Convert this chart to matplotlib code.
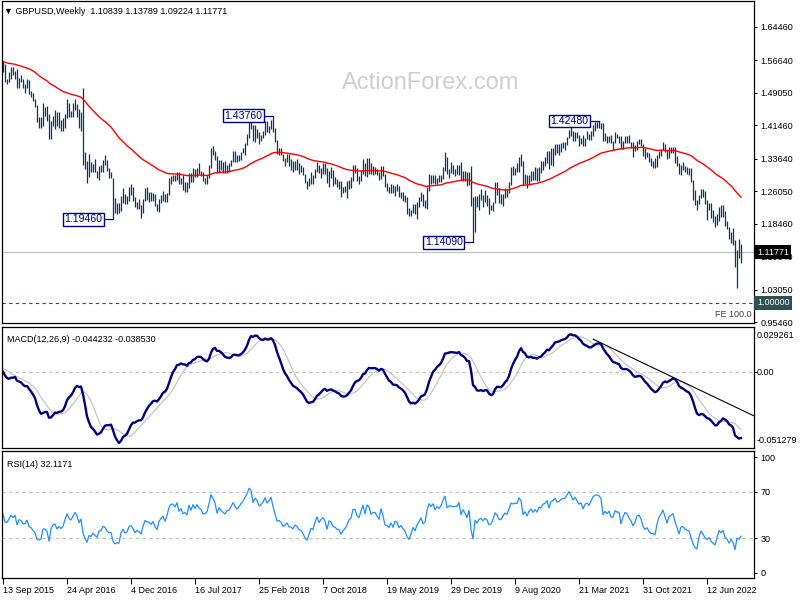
import numpy as np
import pandas as pd
import matplotlib
matplotlib.use("Agg")
import matplotlib.pyplot as plt

plt.rcParams['font.family'] = ['Liberation Sans', 'DejaVu Sans']

# ---------------- data ----------------
# closes before the visible window (used only to warm up the indicators)
warmup_close = [1.6790, 1.6700, 1.6590, 1.6575, 1.6320, 1.6250, 1.6290, 1.6295, 1.6080, 1.6085,
                1.6130, 1.6095, 1.5995, 1.5855, 1.5695, 1.5700, 1.5640, 1.5605, 1.5710, 1.5660,
                1.5520, 1.5575,
                1.5140, 1.5160, 1.5020, 1.5055, 1.5250, 1.5390, 1.5390, 1.5435, 1.5040, 1.4730,
                1.4920, 1.4870, 1.4895, 1.4625, 1.5000, 1.5195, 1.5355, 1.5450, 1.5740, 1.5485,
                1.5290, 1.5280, 1.5570, 1.5880, 1.5740, 1.5600, 1.5515, 1.5605, 1.5530, 1.5610,
                1.5480, 1.5620, 1.5700, 1.5410, 1.5165, 1.5430]

start_date = "2015-09-13"

high = [1.5659, 1.5590, 1.5240, 1.5385, 1.5509, 1.5508, 1.5428, 1.5470, 1.5248, 1.5335,
        1.5237, 1.5105, 1.5240, 1.5195, 1.4952, 1.4905, 1.4770, 1.4630, 1.4350, 1.4350,
        1.4668, 1.4580, 1.4590, 1.4410, 1.4245, 1.4365, 1.4515, 1.4460, 1.4460, 1.4275,
        1.4315, 1.4420, 1.4770, 1.4680, 1.4480, 1.4665, 1.4770, 1.4650, 1.4520, 1.4460,
        1.5018, 1.3530, 1.3320, 1.3480, 1.3290, 1.3235, 1.3370, 1.3090, 1.3185, 1.3230,
        1.3340, 1.3445, 1.3340, 1.3140, 1.3060, 1.2910, 1.2450, 1.2340, 1.2335, 1.2495,
        1.2670, 1.2540, 1.2490, 1.2695, 1.2775, 1.2700, 1.2480, 1.2345, 1.2430, 1.2280,
        1.2415, 1.2675, 1.2705, 1.2580, 1.2580, 1.2570, 1.2540, 1.2315, 1.2430, 1.2520,
        1.2615, 1.2535, 1.2565, 1.2905, 1.2965, 1.2990, 1.2990, 1.3048, 1.3045, 1.2925,
        1.2980, 1.2815, 1.2810, 1.3030, 1.3030, 1.3145, 1.3115, 1.3150, 1.3270, 1.3090,
        1.3045, 1.2910, 1.2980, 1.3225, 1.3615, 1.3655, 1.3555, 1.3435, 1.3340, 1.3340,
        1.3280, 1.3320, 1.3225, 1.3265, 1.3335, 1.3550, 1.3550, 1.3455, 1.3445, 1.3515,
        1.3615, 1.3745, 1.3945, 1.4345, 1.4250, 1.4165, 1.4145, 1.4070, 1.4000, 1.3930,
        1.4005, 1.4245, 1.4245, 1.4120, 1.4265, 1.4376, 1.4095, 1.3815, 1.3610, 1.3625,
        1.3485, 1.3390, 1.3475, 1.3470, 1.3365, 1.3315, 1.3305, 1.3365, 1.3260, 1.3210,
        1.3175, 1.3010, 1.2835, 1.2925, 1.3045, 1.2985, 1.3125, 1.3300, 1.3215, 1.3155,
        1.3255, 1.3260, 1.3150, 1.3085, 1.3175, 1.3100, 1.2930, 1.2885, 1.2840, 1.2840,
        1.2710, 1.2730, 1.2835, 1.2865, 1.2935, 1.3215, 1.3215, 1.3145, 1.2965, 1.3110,
        1.3350, 1.3255, 1.3380, 1.3385, 1.3275, 1.3195, 1.3180, 1.3125, 1.3050, 1.3200,
        1.3185, 1.3000, 1.2800, 1.2715, 1.2765, 1.2760, 1.2735, 1.2785, 1.2725, 1.2580,
        1.2580, 1.2520, 1.2470, 1.2210, 1.2160, 1.2310, 1.2310, 1.2355, 1.2480, 1.2580,
        1.2530, 1.2410, 1.2705, 1.3015, 1.2990, 1.2975, 1.2975, 1.2920, 1.2990, 1.2985,
        1.3175, 1.3515, 1.3395, 1.3115, 1.3285, 1.3215, 1.3120, 1.3210, 1.3215, 1.3285,
        1.3070, 1.3070, 1.3050, 1.3060, 1.3200, 1.2480, 1.2485, 1.2485, 1.2535, 1.2650,
        1.2515, 1.2645, 1.2525, 1.2440, 1.2295, 1.2365, 1.2812, 1.2810, 1.2690, 1.2545,
        1.2535, 1.2670, 1.2665, 1.2815, 1.3170, 1.3185, 1.3140, 1.3265, 1.3395, 1.3482,
        1.3320, 1.3005, 1.2985, 1.2985, 1.3085, 1.3085, 1.3175, 1.3140, 1.3180, 1.3310,
        1.3310, 1.3395, 1.3540, 1.3540, 1.3625, 1.3625, 1.3705, 1.3705, 1.3710, 1.3745,
        1.3760, 1.3760, 1.3865, 1.4035, 1.4241, 1.4015, 1.3990, 1.4000, 1.3920, 1.3850,
        1.3920, 1.3850, 1.4010, 1.3950, 1.4005, 1.4165, 1.4235, 1.4220, 1.4248, 1.4200,
        1.4210, 1.3970, 1.3890, 1.3905, 1.3910, 1.3785, 1.3985, 1.3955, 1.3890, 1.3890,
        1.3780, 1.3890, 1.3890, 1.3915, 1.3750, 1.3750, 1.3675, 1.3775, 1.3835, 1.3825,
        1.3700, 1.3610, 1.3515, 1.3500, 1.3375, 1.3310, 1.3375, 1.3445, 1.3550, 1.3600,
        1.3750, 1.3710, 1.3570, 1.3645, 1.3645, 1.3645, 1.3645, 1.3440, 1.3270, 1.3215,
        1.3300, 1.3200, 1.3165, 1.3150, 1.3150, 1.2860, 1.2640, 1.2395, 1.2525, 1.2665,
        1.2665, 1.2600, 1.2405, 1.2325, 1.2330, 1.2170, 1.2035, 1.2065, 1.2245, 1.2295,
        1.2275, 1.2145, 1.1900, 1.1760, 1.1650, 1.1740, 1.1475, 1.1235, 1.1495, 1.13789]

low = [1.5385, 1.5165, 1.5107, 1.5160, 1.5235, 1.5335, 1.5238, 1.5025, 1.5028, 1.5170,
       1.5010, 1.4895, 1.5020, 1.4880, 1.4805, 1.4710, 1.4570, 1.4235, 1.4080, 1.4080,
       1.4140, 1.4360, 1.4255, 1.3835, 1.3835, 1.4125, 1.4055, 1.4130, 1.4090, 1.4005,
       1.4010, 1.4090, 1.4320, 1.4330, 1.4330, 1.4330, 1.4500, 1.4330, 1.4090, 1.4010,
       1.3229, 1.3120, 1.2798, 1.2930, 1.3065, 1.3055, 1.3055, 1.2915, 1.2865, 1.3060,
       1.3055, 1.3220, 1.3090, 1.2910, 1.2920, 1.1946, 1.2085, 1.2080, 1.2085, 1.2140,
       1.2335, 1.2305, 1.2300, 1.2370, 1.2520, 1.2375, 1.2235, 1.2200, 1.2200, 1.1987,
       1.2090, 1.2375, 1.2410, 1.2345, 1.2385, 1.2380, 1.2260, 1.2135, 1.2110, 1.2325,
       1.2380, 1.2365, 1.2365, 1.2515, 1.2765, 1.2845, 1.2845, 1.2865, 1.2775, 1.2770,
       1.2635, 1.2590, 1.2590, 1.2690, 1.2810, 1.2810, 1.2930, 1.2935, 1.3020, 1.2955,
       1.2840, 1.2775, 1.2770, 1.2915, 1.3145, 1.3450, 1.3340, 1.3025, 1.3030, 1.3095,
       1.3025, 1.3040, 1.3040, 1.3060, 1.3185, 1.3300, 1.3300, 1.3300, 1.3305, 1.3345,
       1.3495, 1.3460, 1.3690, 1.3860, 1.4050, 1.3770, 1.3765, 1.3855, 1.3710, 1.3780,
       1.3855, 1.3915, 1.4000, 1.3965, 1.4050, 1.4000, 1.3750, 1.3485, 1.3450, 1.3445,
       1.3305, 1.3205, 1.3300, 1.3205, 1.3100, 1.3050, 1.3100, 1.3100, 1.3010, 1.3050,
       1.2980, 1.2800, 1.2660, 1.2725, 1.2785, 1.2785, 1.2925, 1.3060, 1.3030, 1.2920,
       1.3020, 1.3000, 1.2800, 1.2695, 1.2925, 1.2725, 1.2770, 1.2710, 1.2660, 1.2475,
       1.2565, 1.2595, 1.2440, 1.2665, 1.2670, 1.2855, 1.3030, 1.2855, 1.2770, 1.2855,
       1.3000, 1.2960, 1.2945, 1.3005, 1.3000, 1.2975, 1.3000, 1.2990, 1.2865, 1.2890,
       1.2960, 1.2700, 1.2605, 1.2560, 1.2560, 1.2560, 1.2505, 1.2605, 1.2475, 1.2440,
       1.2380, 1.2365, 1.2080, 1.2015, 1.2015, 1.2100, 1.2065, 1.1959, 1.2240, 1.2380,
       1.2270, 1.2205, 1.2195, 1.2610, 1.2780, 1.2795, 1.2770, 1.2770, 1.2820, 1.2820,
       1.2900, 1.3080, 1.3000, 1.2905, 1.3040, 1.3010, 1.2955, 1.3010, 1.2980, 1.2875,
       1.2850, 1.2850, 1.2725, 1.2760, 1.2265, 1.1409, 1.1645, 1.2240, 1.2165, 1.2405,
       1.2245, 1.2350, 1.2265, 1.2075, 1.2155, 1.2150, 1.2335, 1.2510, 1.2335, 1.2310,
       1.2250, 1.2445, 1.2480, 1.2560, 1.2750, 1.2980, 1.2985, 1.3055, 1.3055, 1.3200,
       1.2760, 1.2765, 1.2675, 1.2745, 1.2840, 1.2860, 1.2865, 1.2855, 1.2855, 1.3025,
       1.3105, 1.3190, 1.3275, 1.3135, 1.3225, 1.3190, 1.3450, 1.3500, 1.3450, 1.3520,
       1.3625, 1.3565, 1.3675, 1.3855, 1.3890, 1.3780, 1.3775, 1.3840, 1.3670, 1.3700,
       1.3670, 1.3670, 1.3830, 1.3800, 1.3800, 1.3890, 1.4005, 1.4080, 1.4080, 1.4070,
       1.3790, 1.3785, 1.3730, 1.3760, 1.3740, 1.3570, 1.3730, 1.3850, 1.3730, 1.3600,
       1.3600, 1.3725, 1.3725, 1.3735, 1.3610, 1.3410, 1.3545, 1.3570, 1.3710, 1.3670,
       1.3425, 1.3355, 1.3400, 1.3280, 1.3195, 1.3160, 1.3160, 1.3175, 1.3390, 1.3430,
       1.3575, 1.3515, 1.3360, 1.3375, 1.3490, 1.3490, 1.3275, 1.3185, 1.3000, 1.2985,
       1.3105, 1.3050, 1.3005, 1.2975, 1.2825, 1.2410, 1.2275, 1.2155, 1.2315, 1.2440,
       1.2460, 1.2310, 1.1935, 1.2160, 1.1975, 1.1875, 1.1760, 1.1805, 1.1915, 1.2005,
       1.2005, 1.1800, 1.1715, 1.1495, 1.1405, 1.1350, 1.0840, 1.0350, 1.1055, 1.09224]

close = [1.5540, 1.5190, 1.5185, 1.5310, 1.5440, 1.5345, 1.5425, 1.5045, 1.5220, 1.5190,
         1.5045, 1.5055, 1.5155, 1.4898, 1.4850, 1.4737, 1.4615, 1.4245, 1.4230, 1.4250,
         1.4500, 1.4500, 1.4400, 1.3870, 1.4230, 1.4355, 1.4390, 1.4150, 1.4225, 1.4135,
         1.4200, 1.4405, 1.4615, 1.4440, 1.4375, 1.4500, 1.4640, 1.4515, 1.4260, 1.4375,
         1.3680, 1.3275, 1.2950, 1.3195, 1.3115, 1.3235, 1.3080, 1.2935, 1.3150, 1.3160,
         1.3310, 1.3265, 1.3070, 1.2970, 1.2975, 1.2430, 1.2195, 1.2230, 1.2190, 1.2485,
         1.2600, 1.2385, 1.2415, 1.2585, 1.2615, 1.2480, 1.2280, 1.2340, 1.2280, 1.2170,
         1.2370, 1.2550, 1.2490, 1.2490, 1.2410, 1.2480, 1.2300, 1.2190, 1.2400, 1.2480,
         1.2550, 1.2385, 1.2550, 1.2820, 1.2950, 1.2950, 1.2880, 1.3030, 1.2800, 1.2890,
         1.2745, 1.2780, 1.2715, 1.3030, 1.2890, 1.3100, 1.2990, 1.3135, 1.3040, 1.3010,
         1.2875, 1.2880, 1.2935, 1.3200, 1.3590, 1.3495, 1.3385, 1.3065, 1.3285, 1.3190,
         1.3130, 1.3075, 1.3190, 1.3210, 1.3325, 1.3475, 1.3380, 1.3310, 1.3375, 1.3500,
         1.3565, 1.3725, 1.3865, 1.4150, 1.4110, 1.3820, 1.4020, 1.3960, 1.3815, 1.3865,
         1.3950, 1.4140, 1.4010, 1.4090, 1.4240, 1.4010, 1.3780, 1.3525, 1.3545, 1.3470,
         1.3320, 1.3355, 1.3410, 1.3270, 1.3265, 1.3200, 1.3285, 1.3235, 1.3140, 1.3110,
         1.3000, 1.2835, 1.2740, 1.2845, 1.2960, 1.2925, 1.3070, 1.3195, 1.3035, 1.3110,
         1.3150, 1.3065, 1.2815, 1.3005, 1.2970, 1.2830, 1.2805, 1.2745, 1.2730, 1.2580,
         1.2640, 1.2680, 1.2745, 1.2845, 1.2880, 1.3070, 1.3075, 1.2940, 1.2900, 1.3045,
         1.3190, 1.3010, 1.3255, 1.3210, 1.3035, 1.3075, 1.3085, 1.3000, 1.2920, 1.3185,
         1.3005, 1.2715, 1.2705, 1.2625, 1.2735, 1.2590, 1.2735, 1.2700, 1.2525, 1.2575,
         1.2470, 1.2375, 1.2165, 1.2030, 1.2140, 1.2285, 1.2160, 1.2290, 1.2380, 1.2475,
         1.2290, 1.2330, 1.2665, 1.2915, 1.2835, 1.2940, 1.2775, 1.2895, 1.2840, 1.2935,
         1.3150, 1.3325, 1.3010, 1.3080, 1.3085, 1.3060, 1.3075, 1.3075, 1.3200, 1.2895,
         1.3050, 1.2960, 1.2820, 1.3045, 1.2275, 1.1650, 1.2460, 1.2265, 1.2455, 1.2510,
         1.2370, 1.2490, 1.2405, 1.2130, 1.2170, 1.2355, 1.2665, 1.2560, 1.2345, 1.2335,
         1.2490, 1.2615, 1.2565, 1.2790, 1.3085, 1.3055, 1.3090, 1.3085, 1.3355, 1.3275,
         1.2790, 1.2915, 1.2745, 1.2945, 1.3045, 1.2920, 1.3035, 1.2945, 1.3150, 1.3125,
         1.3285, 1.3315, 1.3440, 1.3225, 1.3510, 1.3555, 1.3670, 1.3565, 1.3585, 1.3685,
         1.3705, 1.3730, 1.3855, 1.4010, 1.3925, 1.3835, 1.3935, 1.3865, 1.3790, 1.3830,
         1.3705, 1.3840, 1.3875, 1.3830, 1.3955, 1.4095, 1.4150, 1.4165, 1.4150, 1.4110,
         1.3805, 1.3880, 1.3830, 1.3890, 1.3760, 1.3760, 1.3900, 1.3870, 1.3870, 1.3620,
         1.3760, 1.3860, 1.3835, 1.3740, 1.3675, 1.3550, 1.3615, 1.3745, 1.3760, 1.3680,
         1.3500, 1.3410, 1.3440, 1.3340, 1.3270, 1.3270, 1.3235, 1.3400, 1.3530, 1.3590,
         1.3675, 1.3545, 1.3395, 1.3530, 1.3555, 1.3590, 1.3410, 1.3255, 1.3040, 1.3180,
         1.3185, 1.3110, 1.3075, 1.3060, 1.2835, 1.2570, 1.2335, 1.2265, 1.2485, 1.2620,
         1.2490, 1.2315, 1.2225, 1.2265, 1.2095, 1.1985, 1.1870, 1.2010, 1.2175, 1.2075,
         1.2130, 1.1830, 1.1735, 1.1510, 1.1590, 1.1415, 1.0855, 1.1165, 1.1090, 1.11771]

price_ticks = [1.64460, 1.56640, 1.49050, 1.41460, 1.33640, 1.26050, 1.18460, 1.10840, 1.03050, 0.95460]
price_limits = (0.9524, 1.7054)
last_price = 1.11771
fe_level = 1.00000
label_idx = [55, 135, 235, 298]
label_val = [1.19460, 1.43760, 1.14090, 1.42480]

macd_limits = (-0.0509, 0.0306)
macd_labels = ["0.029261", "0.00", "-0.051279"]
trend_idx = [295.2, 375.2]
trend_val = [0.0223, -0.0291]

rsi_limits = (-4.6, 105.5)
rsi_ticks = [100, 70, 30, 0]
rsi_levels = [70, 30]
date_step = 32

header_price = "GBPUSD,Weekly  1.10839 1.13789 1.09224 1.11771"
header_macd = "MACD(12,26,9) -0.044232 -0.038530"
header_rsi = "RSI(14) 32.1171"

# ---------------- indicators ----------------
n_warm = len(warmup_close)
allc = pd.Series(warmup_close + close)
ema55 = allc.ewm(span=55, adjust=False).mean()
macd = allc.ewm(span=12, adjust=False).mean() - allc.ewm(span=26, adjust=False).mean()
signal = macd.rolling(9).mean()
delta = allc.diff()
gain = delta.clip(lower=0)
loss = -delta.clip(upper=0)
rsi = 100 - 100 / (1 + gain.ewm(alpha=1 / 14, adjust=False).mean() / loss.ewm(alpha=1 / 14, adjust=False).mean())

ema55 = ema55.values[n_warm:]
macd = macd.values[n_warm:]
signal = signal.values[n_warm:]
rsi = rsi.values[n_warm:]

n = len(close)
x = np.arange(n)
dates = pd.date_range(start_date, periods=n, freq="7D")

# ---------------- figure ----------------
W, H = 800, 600
fig = plt.figure(figsize=(8, 6), dpi=100)
fig.patch.set_facecolor("white")


def rect(x0, y0, x1, y1):
    return [x0 / W, 1 - y1 / H, (x1 - x0) / W, (y1 - y0) / H]


ax1 = fig.add_axes(rect(2, 1, 754, 323))
ax2 = fig.add_axes(rect(2, 327, 754, 448))
ax3 = fig.add_axes(rect(2, 451, 754, 578))

FS = 6.5
for ax in (ax1, ax2, ax3):
    ax.set_xlim(-0.5, 375.5)
    for s in ax.spines.values():
        s.set_color("black")
        s.set_linewidth(0.9)
    ax.yaxis.tick_right()
    ax.tick_params(axis="y", direction="out", length=2.5, width=0.7, labelsize=FS, pad=2, colors="black")
    ax.tick_params(axis="x", bottom=False, labelbottom=False)

# ---- price panel ----
bar_color = "#0f3552"
ax1.vlines(x, low, high, color=bar_color, lw=0.9)
ax1.plot(x, ema55, color="#ff0000", lw=1.0)
ax1.set_ylim(*price_limits)
ax1.set_yticks(price_ticks)
ax1.set_yticklabels([f"{v:.5f}" for v in price_ticks])

ax1.axhline(last_price, color="#c0c0c0", lw=0.9, zorder=0)
ax1.axhline(fe_level, color="#2f4f4f", lw=0.8, ls=(0, (3, 3)))

ytr = ax1.get_yaxis_transform()
ax1.text(1.004, last_price, f"{last_price:.5f}", transform=ytr, ha="left", va="center",
         fontsize=FS, color="white", clip_on=False, zorder=10,
         bbox=dict(boxstyle="square,pad=0.28", fc="black", ec="none"))
ax1.text(1.004, fe_level, f"{fe_level:.5f}", transform=ytr, ha="left", va="center",
         fontsize=FS, color="white", clip_on=False, zorder=10,
         bbox=dict(boxstyle="square,pad=0.28", fc="#2f4f4f", ec="none"))
ax1.annotate("FE 100.0", xy=(0.997, fe_level), xycoords=ytr, xytext=(0, -5),
             textcoords="offset points", ha="right", va="top", fontsize=FS, color="#404040")

for idx, val in zip(label_idx, label_val):
    ax1.plot([idx - 4.9, idx], [val, val], color="#00008b", lw=0.9, zorder=5)
    ax1.text(idx - 5.2, val, f"{val:.5f}", ha="right", va="center", fontsize=7.6,
             color="#00008b", zorder=6,
             bbox=dict(boxstyle="square,pad=0.12", fc="white", ec="#00008b", lw=1.0))

ax1.text(0.570, 0.745, "ActionForex.com", transform=ax1.transAxes, ha="center", va="center",
         fontsize=17, color="#cfcfcf", zorder=0)
ax1.text(0.003, 0.968, "\u25BC " + header_price, transform=ax1.transAxes, ha="left", va="center",
         fontsize=FS, color="black")

# ---- MACD panel ----
ax2.axhline(0, color="#c0c0c0", lw=0.8, ls=(0, (3, 3)))
ax2.plot(x, signal, color="#c0c0c0", lw=0.8)
ax2.plot(x, macd, color="#000080", lw=1.7)
ax2.plot(trend_idx, trend_val, color="black", lw=0.8)
ax2.set_ylim(*macd_limits)
ax2.set_yticks([0.0])
ax2.set_yticklabels([""])
ax2.tick_params(axis="y", length=2.5)
ax2.text(1.004, 0.93, macd_labels[0], transform=ax2.transAxes, ha="left", va="center", fontsize=FS)
ax2.text(1.004, 0.0, macd_labels[1], transform=ax2.get_yaxis_transform(), ha="left", va="center", fontsize=FS)
ax2.text(1.004, 0.06, macd_labels[2], transform=ax2.transAxes, ha="left", va="center", fontsize=FS)
ax2.text(0.006, 0.9, header_macd, transform=ax2.transAxes, ha="left", va="center", fontsize=FS)

# ---- RSI panel ----
for lv in rsi_levels:
    ax3.axhline(lv, color="#c0c0c0", lw=0.8, ls=(0, (3, 3)))
ax3.plot(x, rsi, color="#1e90ff", lw=0.9)
ax3.set_ylim(*rsi_limits)
ax3.set_yticks(rsi_ticks)
ax3.set_yticklabels([str(v) for v in rsi_ticks])
ax3.text(0.006, 0.895, header_rsi, transform=ax3.transAxes, ha="left", va="center", fontsize=FS)

tick_pos = list(range(0, n, date_step))
ax3.set_xticks(tick_pos)
ax3.set_xticklabels([f"{dates[i].day} {dates[i].strftime('%b')} {dates[i].year}" for i in tick_pos])
ax3.tick_params(axis="x", bottom=True, labelbottom=True, direction="out", length=4, width=0.7,
                labelsize=FS, pad=2)
for t in ax3.get_xticklabels():
    t.set_ha("left")

fig.savefig("out.png", dpi=100, facecolor="white")
